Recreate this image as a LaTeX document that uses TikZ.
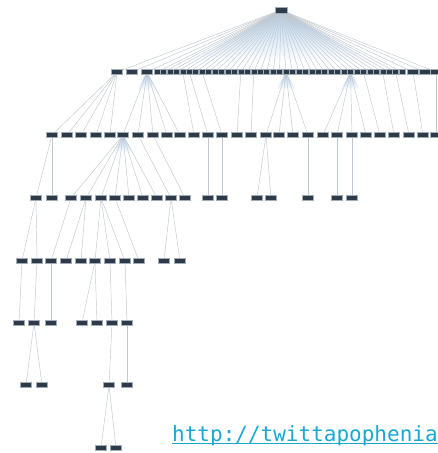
\documentclass[tikz,border=0pt]{standalone}
\usepackage{fontspec}
\newfontfamily\urlfont{DejaVu Sans Mono}
\definecolor{edgec}{RGB}{192,199,206}
\definecolor{boxfill}{RGB}{46,58,72}
\definecolor{boxline}{RGB}{160,172,184}
\definecolor{glow}{RGB}{176,206,234}
\definecolor{urlc}{RGB}{26,168,208}
\pgfdeclarelayer{bg}
\pgfsetlayers{bg,main}
\tikzset{
  tn/.style={draw=boxline, fill=boxfill, line width=0.5pt, minimum width=11pt, minimum height=5pt, inner sep=0pt, outer sep=0pt},
  tnd/.style={tn, minimum width=6pt},
  ed/.style={draw=edgec, line width=0.45pt},
  glowshade/.style={top color=glow, bottom color=white},
}
\begin{document}
\begin{tikzpicture}[x=1pt,y=-1pt]
\useasboundingbox (0,0) rectangle (437,453);
% root
\node[tn, minimum width=12pt, minimum height=6pt] (r) at (281,10) {};
% level 1
\foreach \x [count=\i] in {117,132,147} \node[tn] (a\i) at (\x,72) {};
\foreach \k in {0,...,38} \node[tnd] (d\k) at ({157+6.45*\k},72) {};
\foreach \x [count=\i] in {413,425,436} \node[tn] (e\i) at (\x,72) {};
% level 2
\foreach \x [count=\i] in {52,67,81,96,110,123,138,153,167,180,194,208,222,237,251,266,279,293,308,323,337,352,366,380,394,409,423,436}
  \node[tn] (b\i) at (\x,135) {};
% level 3
\foreach \x [count=\i] in {36,52,71,86,101,115,129,143,157,171,185,208,222,257,271,308,337,352}
  \node[tn] (c\i) at (\x,198) {};
% level 4
\foreach \x [count=\i] in {22,37,51,66,81,95,110,125,139,164,180}
  \node[tn] (f\i) at (\x,261) {};
% level 5
\foreach \x [count=\i] in {19,34,51,82,97,112,127}
  \node[tn] (g\i) at (\x,323) {};
% level 6
\foreach \x [count=\i] in {26,42,109,127}
  \node[tn] (h\i) at (\x,385) {};
% level 7
\foreach \x [count=\i] in {101,116}
  \node[tn] (k\i) at (\x,448) {};
% url
\node[anchor=base west, inner sep=0pt, font=\urlfont\fontsize{21}{21}\selectfont, text=urlc] (url) at (172,441) {http://twittapophenia};
\draw[urlc, line width=1.3pt] ([yshift=-2.6pt]url.base west) -- ([yshift=-2.6pt]url.base east);

\begin{pgfonlayer}{bg}
% glows
\shade[glowshade] (r.center) -- (190,62) -- (372,62) -- cycle;
\foreach \n in {a3,d20,d30,b6} {
  \shade[glowshade] (\n.center) -- ([xshift=-10pt,yshift=-18pt]\n.center) -- ([xshift=10pt,yshift=-18pt]\n.center) -- cycle;
}
% edges root -> L1
\foreach \i in {1,2,3} \draw[ed] (r.center) -- (a\i.center);
\foreach \k in {0,...,38} \draw[ed] (r.center) -- (d\k.center);
\foreach \i in {1,2,3} \draw[ed] (r.center) -- (e\i.center);
% L1 -> L2
\foreach \i in {1,...,5} \draw[ed] (a1.center) -- (b\i.center);
\foreach \i in {6,...,10} \draw[ed] (a3.center) -- (b\i.center);
\draw[ed] (d4.center) -- (b11.center);
\draw[ed] (d5.center) -- (b12.center);
\draw[ed] (d7.center) -- (b13.center);
\draw[ed] (d13.center) -- (b14.center);
\draw[ed] (d15.center) -- (b15.center);
\foreach \i in {16,...,19} \draw[ed] (d20.center) -- (b\i.center);
\foreach \i in {20,...,23} \draw[ed] (d30.center) -- (b\i.center);
\draw[ed] (d32.center) -- (b24.center);
\draw[ed] (d35.center) -- (b25.center);
\draw[ed] (d37.center) -- (b26.center);
\draw[ed] (e1.center) -- (b27.center);
\draw[ed] (e3.center) -- (b28.center);
% L2 -> L3
\foreach \i in {1,2} \draw[ed] (b1.center) -- (c\i.center);
\foreach \i in {3,...,9} \draw[ed] (b6.center) -- (c\i.center);
\draw[ed] (b7.center) -- (c10.center);
\draw[ed] (b8.center) -- (c11.center);
\draw[ed] (b12.center) -- (c12.center);
\draw[ed] (b13.center) -- (c13.center);
\foreach \i in {14,15} \draw[ed] (b16.center) -- (c\i.center);
\draw[ed] (b19.center) -- (c16.center);
\draw[ed] (b21.center) -- (c17.center);
\draw[ed] (b22.center) -- (c18.center);
% L3 -> L4
\foreach \i in {1,2} \draw[ed] (c1.center) -- (f\i.center);
\draw[ed] (c3.center) -- (f3.center);
\foreach \i in {4,5} \draw[ed] (c4.center) -- (f\i.center);
\foreach \i in {6,7,8} \draw[ed] (c5.center) -- (f\i.center);
\draw[ed] (c6.center) -- (f9.center);
\foreach \i in {10,11} \draw[ed] (c10.center) -- (f\i.center);
% L4 -> L5
\draw[ed] (f1.center) -- (g1.center);
\draw[ed] (f2.center) -- (g2.center);
\draw[ed] (f3.center) -- (g3.center);
\foreach \i in {4,5} \draw[ed] (f6.center) -- (g\i.center);
\draw[ed] (f7.center) -- (g6.center);
\draw[ed] (f8.center) -- (g7.center);
% L5 -> L6
\foreach \i in {1,2} \draw[ed] (g2.center) -- (h\i.center);
\draw[ed] (g6.center) -- (h3.center);
\draw[ed] (g7.center) -- (h4.center);
% L6 -> L7
\foreach \i in {1,2} \draw[ed] (h3.center) -- (k\i.center);
\end{pgfonlayer}
\end{tikzpicture}
\end{document}
